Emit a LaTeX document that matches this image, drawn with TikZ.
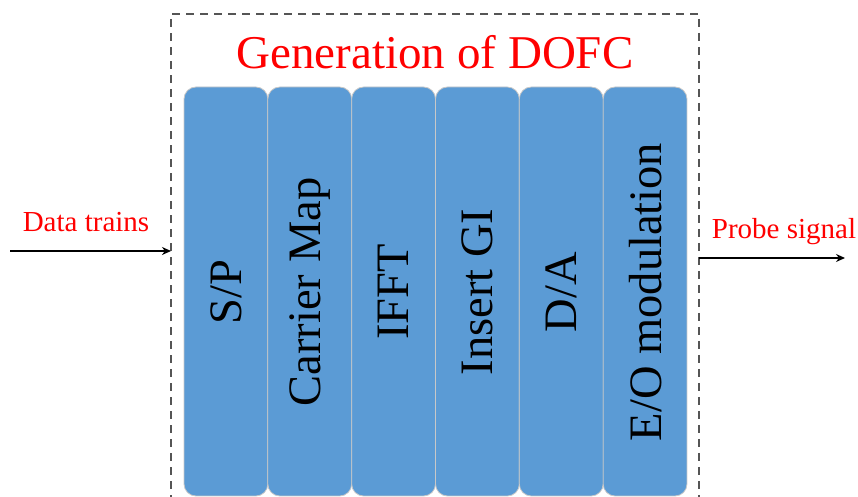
\documentclass[tikz,border=0pt]{standalone}
\usepackage{fontspec}
\setmainfont{Liberation Serif}
\usetikzlibrary{arrows.meta}
\definecolor{blockblue}{HTML}{5B9BD5}
\definecolor{seam}{HTML}{C8C8C8}
\definecolor{frame}{HTML}{555555}
\begin{document}
\begin{tikzpicture}[x=1pt,y=1pt,
  stage/.style={fill=blockblue,draw=seam,line width=0.8pt,rounded corners=12pt},
  stagetext/.style={rotate=90,font=\fontsize{46.5}{50}\selectfont,text=black,inner sep=0pt},
  redlabel/.style={text=red,inner sep=0pt,font=\fontsize{29}{32}\selectfont},
  flow/.style={line width=1.6pt,-{Stealth[length=9pt,width=8pt]}}]
\useasboundingbox (0,0) rectangle (858,497);
\begin{scope}
\clip (0,0) rectangle (858,497);
% dashed enclosure, open at the bottom edge
\draw[frame,line width=1.1pt,dash pattern=on 8pt off 6pt] (171,-20) rectangle (699,483);
% the six processing stages
\foreach \i/\txt in {0/S\slash P,1/Carrier Map,2/IFFT,3/Insert GI,4/D\slash A,5/E\slash O modulation}{
  \path[stage] (184+\i*83.83,1) rectangle (184+\i*83.83+83.83,410);
  \node[stagetext] (s\i) at (226+\i*83.83,205) {\txt};
}
\end{scope}
\node[text=red,inner sep=0pt,font=\fontsize{47}{50}\selectfont] (title) at (435,445) {Generation of DOFC};
% input and output
\coordinate (inL) at (171,246);
\coordinate (src) at (10,246);
\coordinate (outR) at (699,239);
\coordinate (dst) at (845,239);
\node[redlabel] (data) at (86,275) {Data trains};
\node[redlabel] (probe) at (784,265) {Probe signal};
\draw[flow] (src) -- (inL);
\draw[flow] (outR) -- (dst);
\end{tikzpicture}
\end{document}
